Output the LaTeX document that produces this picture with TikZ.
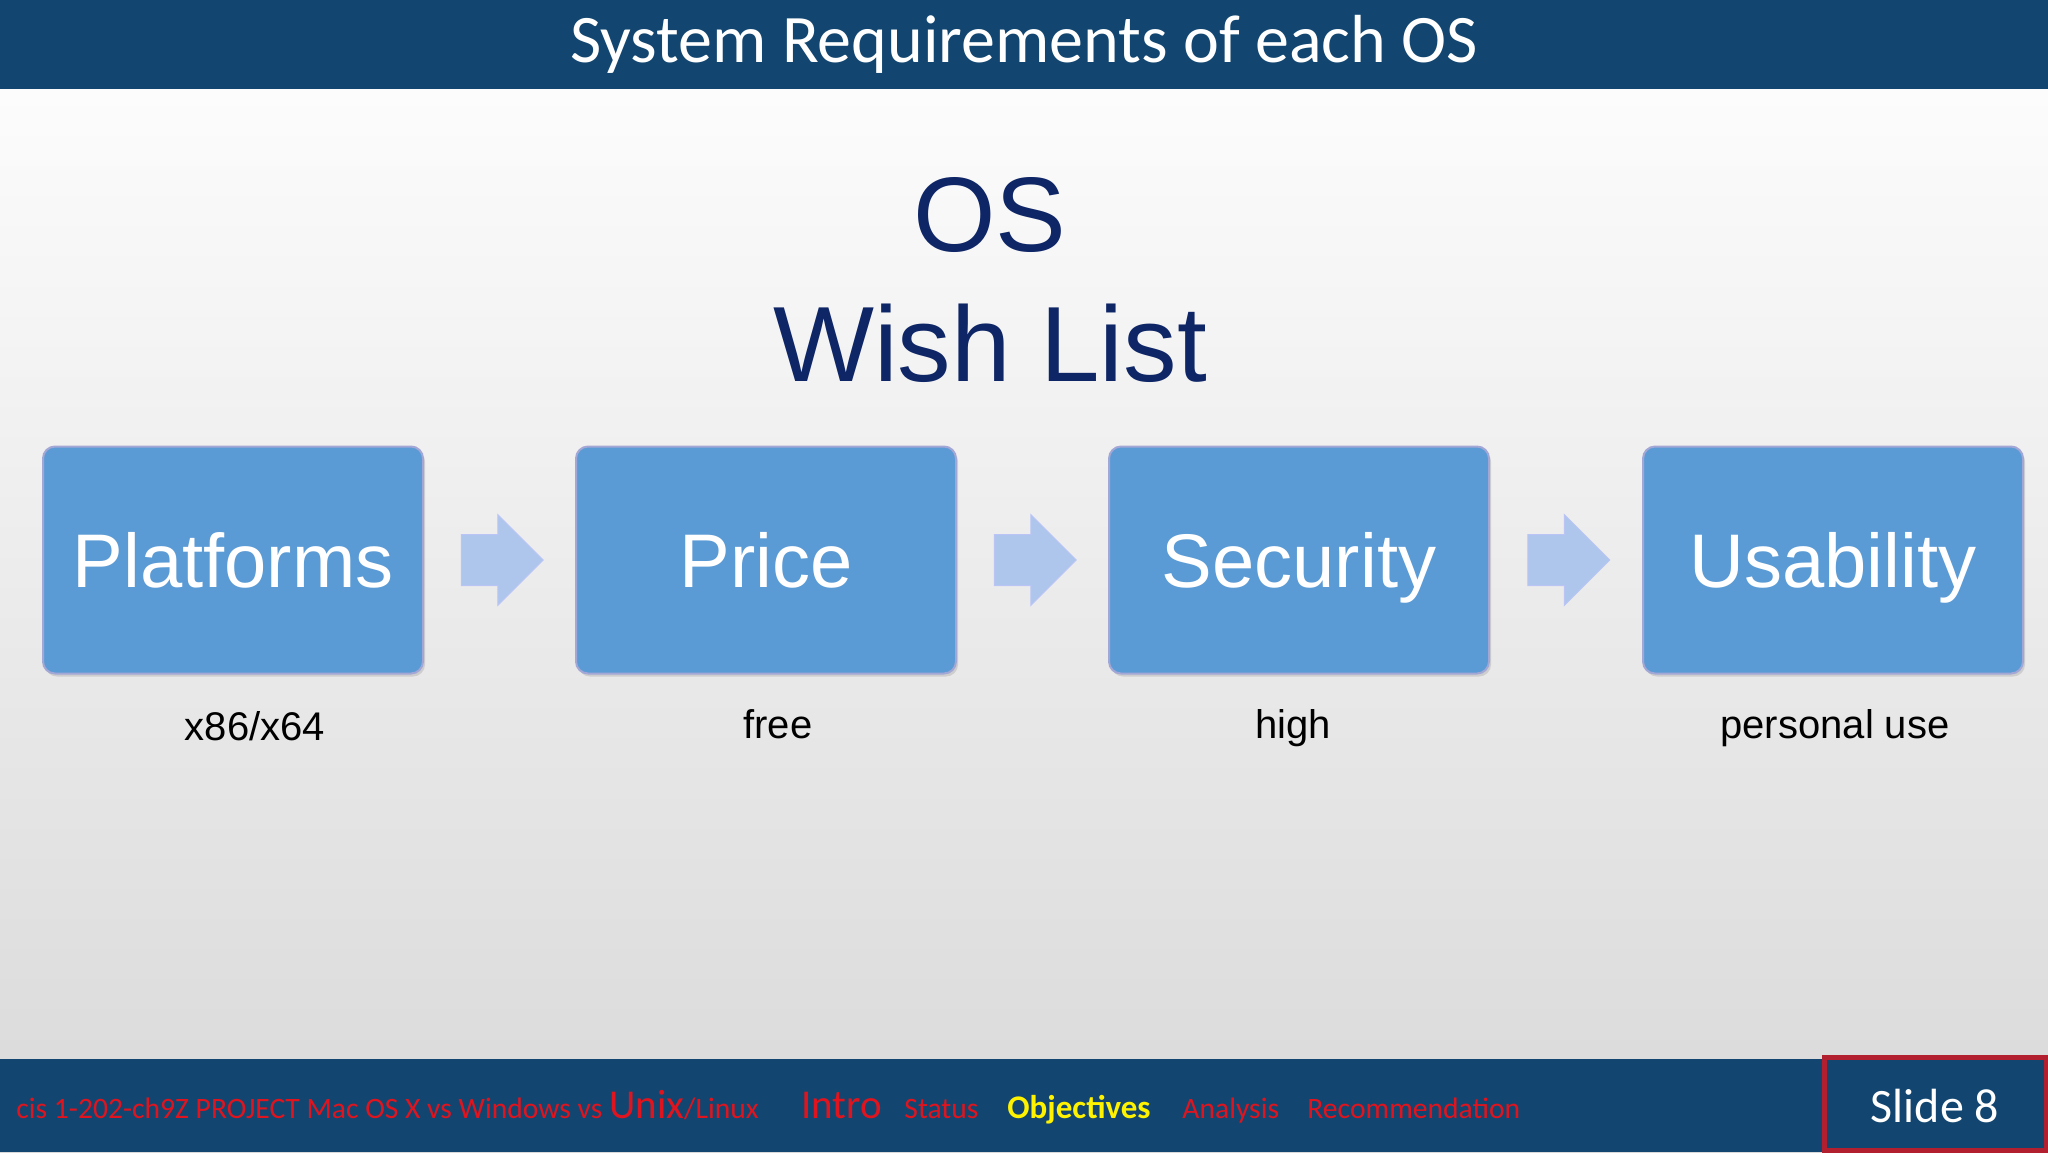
\documentclass[tikz,border=0pt]{standalone}
\usepackage{fontspec}
\setmainfont{Liberation Sans}
\newfontfamily\calib{Carlito}
\usetikzlibrary{shapes.arrows,shadows,calc}
\definecolor{navy}{HTML}{124670}
\definecolor{boxblue}{HTML}{5B9BD5}
\definecolor{arrowblue}{HTML}{AFC6EC}
\definecolor{dark}{HTML}{0E2566}
\definecolor{fred}{HTML}{E0141E}
\definecolor{sred}{HTML}{B22030}
\begin{document}
\begin{tikzpicture}[x=0.5pt,y=-0.5pt,
  bigbox/.style={draw=boxblue!70!violet!60!white,line width=1pt,fill=boxblue,rounded corners=6pt,minimum width=190pt,minimum height=113.5pt,text=white,font=\fontsize{38}{42}\selectfont,text height=31pt,text depth=4pt,drop shadow={opacity=0.25,shadow xshift=1pt,shadow yshift=-1.5pt}},
  arr/.style={single arrow,fill=arrowblue,draw=arrowblue!80!blue!60!white,minimum height=41pt,inner xsep=0pt,inner ysep=12.5pt,single arrow head extend=10pt,single arrow tip angle=90,line width=0.5pt,xshift=-5pt},
  sub/.style={font=\fontsize{20}{24}\selectfont,text=black,text height=14pt,text depth=4pt},
  ft/.style={anchor=base west,text=fred,font=\calib\fontsize{14.8}{16}\selectfont,inner sep=0pt}]
\useasboundingbox (0,0) rectangle (2048,1152);
\shade[top color=white,bottom color=gray!30!white] (0,0) rectangle (2048,1152);
\fill[navy] (0,0) rectangle (2048,89);
\node[text=white,font=\calib\fontsize{34}{36}\selectfont] (title) at (1024,44) {System Requirements of each OS};
\node[text=dark,font=\fontsize{53}{58}\selectfont] (os) at (990,215) {OS};
\node[text=dark,font=\fontsize{53.5}{58}\selectfont] (wl) at (990,343) {Wish List};
\node[bigbox] (b1) at (233,560) {Platforms};
\node[bigbox] (b2) at (766,560) {Price};
\node[bigbox] (b3) at (1299,560) {Security};
\node[bigbox] (b4) at (1833,560) {Usability};
\node[arr] (a1) at ($(b1.east)!0.5!(b2.west)$) {};
\node[arr] (a2) at ($(b2.east)!0.5!(b3.west)$) {};
\node[arr] (a3) at ($(b3.east)!0.5!(b4.west)$) {};
\node[sub] (s1) at (255,730) {x86/x64};
\node[sub] (s2) at (778,728) {free};
\node[sub] (s3) at (1293,728) {high};
\node[sub] (s4) at (1835,728) {personal use};
\fill[navy] (0,1059) rectangle (2048,1152);
\draw[draw=sred,line width=2.5pt,fill=navy] (1824,1057) rectangle (2046,1150);
\node[text=white,font=\calib\fontsize{24}{26}\selectfont] (sl) at (1935,1106) {Slide 8};
\node[ft] (f1) at (16,1118) {cis 1-202-ch9Z PROJECT Mac OS X vs Windows vs {\fontsize{20.5}{22}\selectfont Unix}/Linux};
\node[ft,font=\calib\fontsize{20.5}{22}\selectfont] (f2) at (801,1118) {Intro};
\node[ft] (f3) at (904,1118) {Status};
\node[ft,text=yellow,font=\calib\bfseries\fontsize{16.5}{17}\selectfont] (f4) at (1007,1118) {Objectives};
\node[ft] (f5) at (1182,1118) {Analysis};
\node[ft] (f6) at (1307,1118) {Recommendation};
\end{tikzpicture}
\end{document}
